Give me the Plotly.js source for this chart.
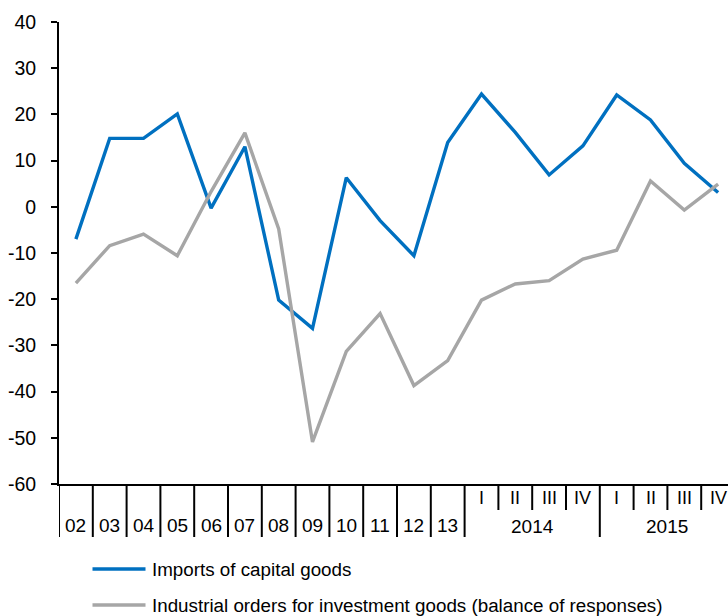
<!DOCTYPE html>
<html>
<head>
<meta charset="utf-8">
<script src="https://cdn.plot.ly/plotly-3.0.1.min.js"></script>
<style>
  html, body { margin: 0; padding: 0; overflow: hidden; background: #fff; }
  #chart { width: 735px; height: 616px; }
</style>
</head>
<body>
<div id="chart"></div>
<script>
// Categories (years 2002-2013, then quarters of 2014 and 2015)
const categories = ['02','03','04','05','06','07','08','09','10','11','12','13',
  '2014 I','2014 II','2014 III','2014 IV','2015 I','2015 II','2015 III','2015 IV'];
const yearLabels = ['02','03','04','05','06','07','08','09','10','11','12','13'];
const quarterLabels = ['I','II','III','IV','I','II','III','IV'];
const groupYears = ['2014','2015'];
const yTickValues = [-60, -50, -40, -30, -20, -10, 0, 10, 20, 30, 40];
const yTickLabels = ['-60', '-50', '-40', '-30', '-20', '-10', '0', '10', '20', '30', '40'];

const seriesNames = ['Imports of capital goods',
  'Industrial orders for investment goods (balance of responses)'];
const importsCapital = [-7, 14.8, 14.8, 20.1, -0.3, 13.0, -20.2, -26.3, 6.3, -3.0, -10.6, 13.9,
  24.4, 16.1, 6.9, 13.2, 24.2, 18.8, 9.4, 3.1];
const industrialOrders = [-16.5, -8.4, -5.9, -10.6, 3.3, 16.0, -4.8, -50.9, -31.3, -23.1, -38.7, -33.3,
  -20.2, -16.7, -16.0, -11.3, -9.4, 5.6, -0.7, 4.9];

const colors = ['#0070C0', '#A6A6A6'];
const FONT = 'Liberation Sans, Arial, sans-serif';

const traces = [
  {x: categories, y: importsCapital, type: 'scatter', mode: 'lines', name: seriesNames[0],
   line: {color: colors[0], width: 3.4}, showlegend: false},
  {x: categories, y: industrialOrders, type: 'scatter', mode: 'lines', name: seriesNames[1],
   line: {color: colors[1], width: 3.4}, showlegend: false}
];

const plotH = 616 - 22 - 132;
const py = p => (484 - p) / plotH;          // pixel row -> paper y
const pxp = p => (p - 59) / 676;           // pixel col -> paper x

const shapes = [];
const annotations = [];
const nYears = yearLabels.length;
// dividers between categories
for (let i = 0; i <= categories.length; i++) {
  const b = i - 0.5;
  let full = i <= nYears || (i - nYears) % 4 === 0;
  shapes.push({type: 'line', xref: 'x', yref: 'paper', x0: b, x1: b, y0: 0,
    y1: full ? py(537) : py(510), line: {color: '#000', width: 2}});
}
yearLabels.forEach((t, i) => annotations.push({x: i, y: py(525), xref: 'x', yref: 'paper',
  text: t, showarrow: false, yanchor: 'middle', xanchor: 'center',
  font: {family: FONT, size: 19, color: '#000'}}));
quarterLabels.forEach((t, i) => annotations.push({x: nYears + i, y: py(498), xref: 'x', yref: 'paper',
  text: t, showarrow: false, yanchor: 'middle', xanchor: 'center',
  font: {family: FONT, size: 18, color: '#000'}}));
groupYears.forEach((t, g) => annotations.push({x: nYears + g * 4 + 1.5, y: py(526), xref: 'x', yref: 'paper',
  text: t, showarrow: false, yanchor: 'middle', xanchor: 'center',
  font: {family: FONT, size: 19, color: '#000'}}));

// legend (manual, to match sample line length)
const legendRows = [569, 605];
seriesNames.forEach((n, k) => {
  shapes.push({type: 'line', xref: 'paper', yref: 'paper', x0: pxp(92.5), x1: pxp(145.5),
    y0: py(legendRows[k]), y1: py(legendRows[k]), line: {color: colors[k], width: 3.4}});
  annotations.push({x: pxp(150), y: py(legendRows[k]), xref: 'paper', yref: 'paper',
    text: n, showarrow: false, xanchor: 'left', yanchor: 'middle',
    font: {family: FONT, size: 18.8, color: '#000'}});
});

const layout = {
  width: 735, height: 616,
  margin: {l: 59, r: 0, t: 22, b: 132},
  paper_bgcolor: '#fff', plot_bgcolor: '#fff',
  showlegend: false,
  xaxis: {type: 'category', range: [-0.5, 19.5], showticklabels: false, ticks: '',
    showline: true, linecolor: '#000', linewidth: 2, showgrid: false, zeroline: false},
  yaxis: {range: [-60, 40], tickmode: 'array', tickvals: yTickValues, ticktext: yTickLabels,
    ticks: 'outside', ticklen: 6, tickwidth: 2,
    tickcolor: '#000', showline: true, linecolor: '#000', linewidth: 2, showgrid: false,
    zeroline: false, ticklabelstandoff: 11,
    tickfont: {family: FONT, size: 19.5, color: '#000'}},
  shapes: shapes,
  annotations: annotations
};

Plotly.newPlot('chart', traces, layout, {staticPlot: true, displayModeBar: false});
</script>
</body>
</html>
